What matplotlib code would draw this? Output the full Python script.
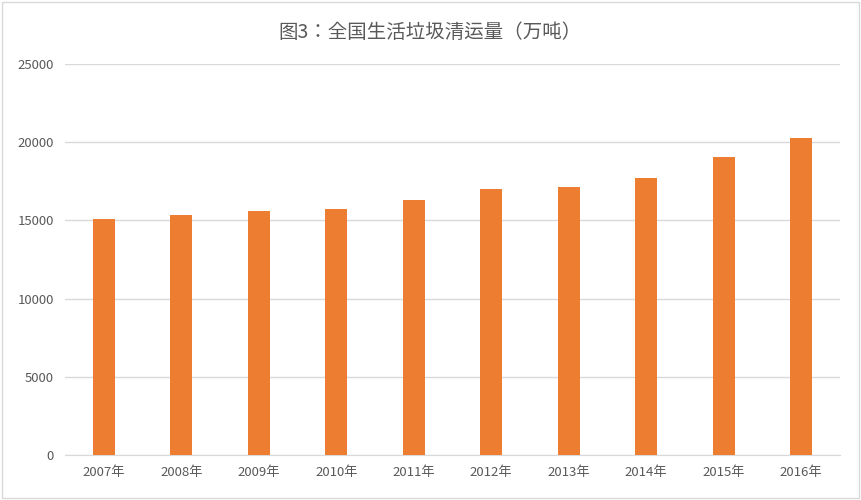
import matplotlib
matplotlib.use("Agg")
import matplotlib.pyplot as plt
from matplotlib import font_manager as fm

years = ["2007年","2008年","2009年","2010年","2011年","2012年","2013年","2014年","2015年","2016年"]
values = [15080, 15320, 15620, 15705, 16300, 16990, 17135, 17740, 19060, 20256]
yticks = [0, 5000, 10000, 15000, 20000, 25000]
title = "图3：全国生活垃圾清运量（万吨）"

cjk = None
for f in fm.findSystemFonts():
    if "CJK" in f and ("SC" in f or "Sans" in f):
        try:
            fm.fontManager.addfont(f)
            name = fm.FontProperties(fname=f).get_name()
            if cjk is None or "SC" in name:
                cjk = name
        except Exception:
            pass
plt.rcParams["font.family"] = [cjk or "Noto Sans CJK SC", "DejaVu Sans"]

fig = plt.figure(figsize=(8.61, 5.0), dpi=100)
ax = fig.add_axes([65/861, 45/500, 775/861, 391/500])
x = range(len(years))
ax.bar(x, values, width=0.29, color="#ED7D31", zorder=3)
ax.set_xticks(list(x))
ax.set_xticklabels(years, fontsize=9.5, color="#595959")
ax.set_yticks(yticks)
ax.set_yticklabels([str(v) for v in yticks], fontsize=9.5, color="#595959")
ax.set_ylim(0, 25000)
ax.set_xlim(-0.5, len(years)-0.5)
ax.grid(axis="y", color="#D9D9D9", linewidth=1, zorder=0)
for s in ["top", "right", "left"]:
    ax.spines[s].set_visible(False)
ax.spines["bottom"].set_color("#D9D9D9")
ax.tick_params(length=0, pad=8)
fig.text(0.5, 1-32/500, title, ha="center", va="center", fontsize=14, color="#595959")
fig.patches.append(plt.Rectangle((0.002, 0.004), 0.996, 0.992, transform=fig.transFigure,
                                 fill=False, edgecolor="#D9D9D9", linewidth=1))
fig.savefig("out.png", dpi=100)
